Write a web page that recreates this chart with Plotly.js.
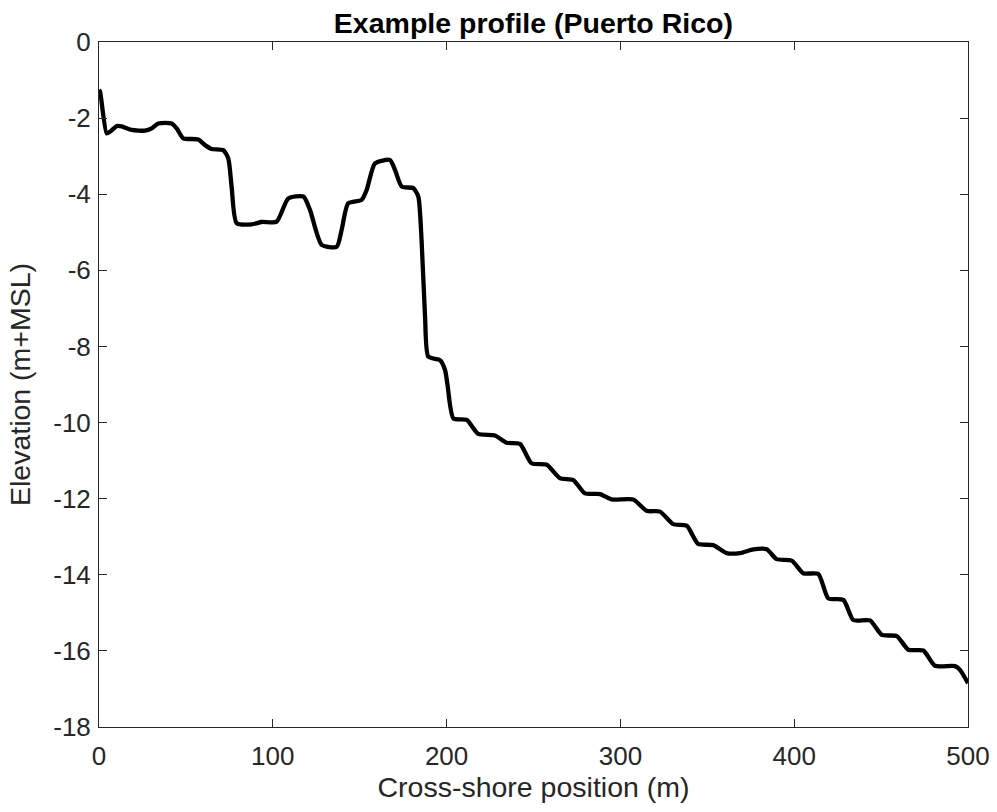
<!DOCTYPE html>
<html>
<head>
<meta charset="utf-8">
<script src="https://cdn.plot.ly/plotly-3.0.1.min.js"></script>
<style>html,body{margin:0;padding:0;background:#fff;}#chart{width:997px;height:812px;}</style>
</head>
<body>
<div id="chart"></div>
<script>
const positionM = [0, 0.6, 4.4, 6.3, 10.2, 13, 18.8, 26.5, 30.3, 34.1, 41.8, 44.7, 48.5, 57.1, 61, 64.8, 71.5, 74.4, 76.3, 79.2, 87.9, 93.6, 102.2, 108.9, 117.6, 121.4, 128.1, 136.8, 139.6, 143.4, 151.1, 154, 158.8, 167.4, 170.3, 174.2, 180.8, 183.7, 185.6, 187.6, 189.5, 196.2, 199.1, 200.5, 203.9, 211.6, 218.2, 227.8, 234.6, 242.2, 248.9, 257.6, 265.2, 272.9, 279.6, 288.3, 295, 307.4, 315.1, 322.8, 330.4, 338.1, 344.8, 353.4, 361.1, 368.8, 376.5, 384.2, 389.9, 398.6, 405.2, 413.9, 419.6, 428.3, 434, 443.6, 450.4, 459, 465.7, 474.3, 481, 492.5, 495.4, 500];
const elevation = [-1.26, -1.3, -2.40, -2.36, -2.21, -2.22, -2.31, -2.33, -2.27, -2.14, -2.14, -2.27, -2.53, -2.56, -2.71, -2.81, -2.84, -3.06, -3.80, -4.76, -4.79, -4.73, -4.72, -4.11, -4.06, -4.41, -5.33, -5.38, -4.94, -4.24, -4.15, -3.89, -3.19, -3.10, -3.36, -3.80, -3.84, -4.06, -5.20, -7.22, -8.27, -8.36, -8.62, -9.0, -9.89, -9.93, -10.30, -10.34, -10.53, -10.56, -11.07, -11.11, -11.46, -11.51, -11.86, -11.88, -12.02, -12.02, -12.32, -12.34, -12.67, -12.71, -13.19, -13.22, -13.43, -13.43, -13.33, -13.33, -13.59, -13.63, -13.96, -13.98, -14.62, -14.66, -15.19, -15.20, -15.58, -15.61, -15.97, -15.99, -16.39, -16.40, -16.50, -16.85];
const xTicks = [0, 100, 200, 300, 400, 500];
const yTicks = [0, -2, -4, -6, -8, -10, -12, -14, -16, -18];

const axisColor = '#262626';
const fontFam = 'Liberation Sans, Arial, Helvetica, sans-serif';

Plotly.newPlot('chart', [{
  x: positionM,
  y: elevation,
  type: 'scatter',
  mode: 'lines',
  line: {color: '#000000', width: 4.3, shape: 'spline', smoothing: 0.6},
  hoverinfo: 'x+y'
}], {
  width: 997, height: 812,
  margin: {l: 99, r: 29, t: 42, b: 85, pad: 0},
  paper_bgcolor: '#ffffff',
  plot_bgcolor: '#ffffff',
  showlegend: false,
  font: {family: fontFam, color: axisColor, size: 26},
  title: {
    text: '<b>Example profile (Puerto Rico)</b>',
    font: {family: fontFam, size: 28.5, color: '#000000'},
    x: 0.535, xanchor: 'center', y: 0.972, yanchor: 'middle'
  },
  xaxis: {
    range: [0, 500],
    tickvals: xTicks,
    ticktext: xTicks.map(String),
    ticks: 'inside', ticklen: 8, tickcolor: axisColor, tickwidth: 1,
    ticklabelstandoff: 6,
    showline: true, linecolor: axisColor, linewidth: 1, mirror: 'ticks',
    showgrid: false, zeroline: false, automargin: false,
    tickfont: {size: 26, color: axisColor, family: fontFam},
    title: {text: 'Cross-shore position (m)', font: {size: 28.5, color: axisColor, family: fontFam}, standoff: 0}
  },
  yaxis: {
    range: [-18, 0],
    tickvals: yTicks,
    ticktext: yTicks.map(String),
    ticks: 'inside', ticklen: 8, tickcolor: axisColor, tickwidth: 1,
    ticklabelstandoff: 2,
    showline: true, linecolor: axisColor, linewidth: 1, mirror: 'ticks',
    showgrid: false, zeroline: false, automargin: false,
    tickfont: {size: 26, color: axisColor, family: fontFam},
    title: {text: 'Elevation (m+MSL)', font: {size: 28.5, color: axisColor, family: fontFam}, standoff: 14}
  }
}, {displayModeBar: false, staticPlot: true});
</script>
</body>
</html>
